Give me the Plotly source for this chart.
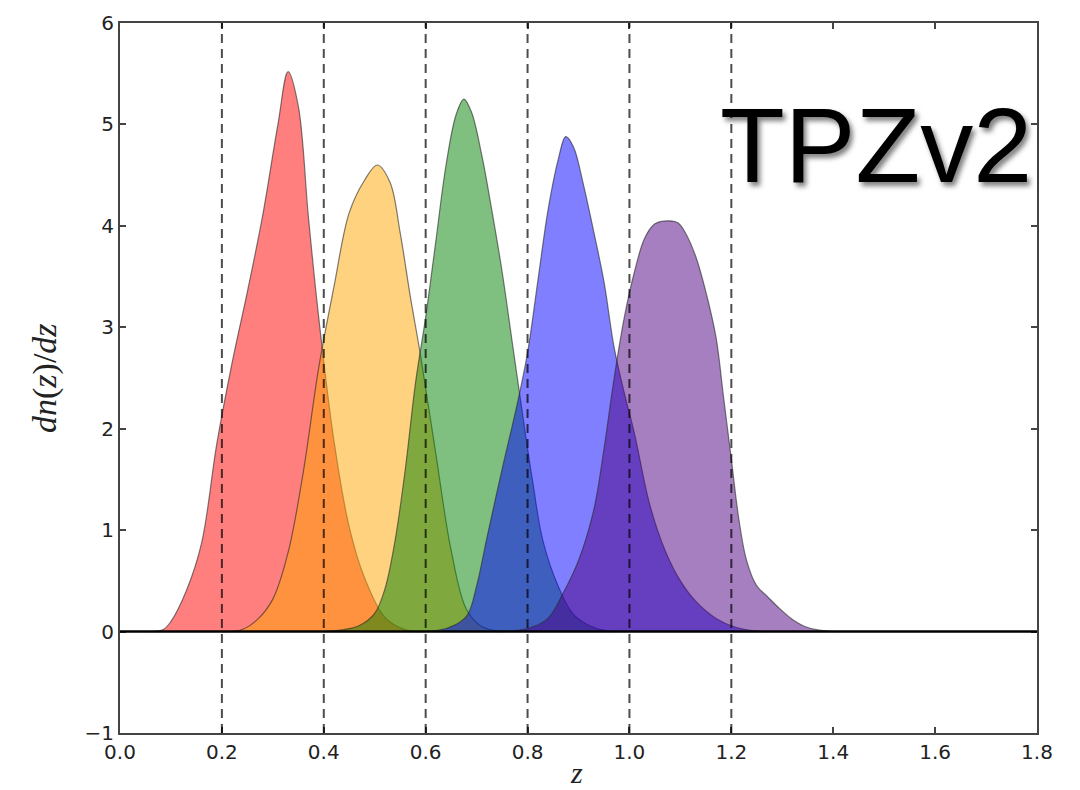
import plotly.graph_objects as go

# Redshift distributions per tomographic bin (z, dn/dz)
red_z = [0.06, 0.085, 0.10, 0.13, 0.16, 0.19, 0.22, 0.25, 0.28, 0.31, 0.33,
         0.35, 0.37, 0.39, 0.42, 0.45, 0.48, 0.52, 0.56, 0.60]
red_n = [0.0, 0.02, 0.1, 0.4, 0.87, 1.85, 2.65, 3.35, 4.1, 5.0, 5.52,
         5.18, 4.08, 3.1, 1.88, 1.03, 0.53, 0.14, 0.02, 0.0]

orange_z = [0.20, 0.24, 0.27, 0.30, 0.33, 0.36, 0.39, 0.42, 0.45, 0.48, 0.505,
            0.53, 0.55, 0.57, 0.59, 0.62, 0.65, 0.68, 0.71, 0.75]
orange_n = [0.0, 0.02, 0.12, 0.32, 0.78, 1.58, 2.6, 3.4, 4.13, 4.45, 4.6,
            4.43, 3.93, 3.3, 2.72, 1.75, 0.8, 0.22, 0.05, 0.0]

green_z = [0.40, 0.44, 0.47, 0.50, 0.52, 0.54, 0.56, 0.58, 0.60, 0.62, 0.64, 0.66, 0.675,
           0.69, 0.71, 0.73, 0.75, 0.77, 0.79, 0.81, 0.83, 0.86, 0.89, 0.93, 0.97]
green_n = [0.0, 0.02, 0.06, 0.18, 0.42, 0.9, 1.6, 2.45, 3.1, 3.85, 4.6, 5.1, 5.25,
           5.12, 4.7, 4.15, 3.55, 2.85, 2.15, 1.48, 0.9, 0.45, 0.17, 0.04, 0.0]

blue_z = [0.58, 0.64, 0.68, 0.70, 0.72, 0.75, 0.78, 0.80, 0.82, 0.84, 0.86, 0.875,
          0.89, 0.91, 0.93, 0.95, 0.97, 0.99, 1.01, 1.04, 1.07, 1.10, 1.13, 1.17, 1.21, 1.26]
blue_n = [0.0, 0.03, 0.15, 0.45, 0.92, 1.6, 2.25, 2.75, 3.45, 4.15, 4.65, 4.88,
          4.78, 4.4, 3.94, 3.45, 2.8, 2.35, 1.95, 1.25, 0.8, 0.5, 0.3, 0.13, 0.04, 0.0]

purple_z = [0.74, 0.80, 0.84, 0.87, 0.90, 0.93, 0.95, 0.97, 0.99, 1.01, 1.03, 1.05, 1.075,
            1.095, 1.11, 1.13, 1.15, 1.17, 1.185, 1.20, 1.215, 1.23, 1.25, 1.27, 1.29,
            1.32, 1.35, 1.40]
purple_n = [0.0, 0.03, 0.13, 0.38, 0.7, 1.2, 1.8, 2.5, 3.1, 3.55, 3.88, 4.02, 4.05,
            4.03, 3.93, 3.7, 3.35, 2.9, 2.3, 1.7, 1.1, 0.7, 0.45, 0.35, 0.25,
            0.12, 0.04, 0.0]

fill_colors = ["rgba(255,0,0,0.5)", "rgba(255,165,0,0.5)", "rgba(0,128,0,0.5)",
               "rgba(0,0,255,0.5)", "rgba(75,0,130,0.5)"]

bin_edges = [0.2, 0.4, 0.6, 0.8, 1.0, 1.2]
x_ticks = [0.0, 0.2, 0.4, 0.6, 0.8, 1.0, 1.2, 1.4, 1.6, 1.8]
y_ticks = [-1, 0, 1, 2, 3, 4, 5, 6]
y_tick_text = ["\u22121", "0", "1", "2", "3", "4", "5", "6"]

series = [(red_z, red_n), (orange_z, orange_n), (green_z, green_n),
          (blue_z, blue_n), (purple_z, purple_n)]

fig = go.Figure()
for (zs, ns), col in zip(series, fill_colors):
    fig.add_trace(go.Scatter(
        x=zs, y=ns, mode="lines", fill="tozeroy", fillcolor=col,
        line=dict(color="rgba(40,40,40,0.6)", width=1.2, shape="spline", smoothing=1.0),
        hoverinfo="skip", showlegend=False,
    ))

# zero line
fig.add_shape(type="line", xref="x", yref="y", x0=0, x1=1.8, y0=0, y1=0,
              line=dict(color="black", width=2.5), layer="above")

# bin boundaries
for e in bin_edges:
    fig.add_shape(type="line", xref="x", yref="y", x0=e, x1=e, y0=-1, y1=6,
                  line=dict(color="rgba(0,0,0,0.7)", width=2, dash="9px,6px"), layer="above")

fig.add_annotation(
    text="TPZv2", xref="paper", yref="paper", x=0.652, y=0.828,
    xanchor="left", yanchor="middle", showarrow=False,
    font=dict(family="Liberation Sans, Arial", size=106, color="black",
              shadow="3px 4px 5px rgba(0,0,0,0.5)"),
)

# axis titles
fig.add_annotation(text="<i>z</i>", xref="paper", yref="paper", x=0.498, y=-0.056,
                   xanchor="center", yanchor="middle", showarrow=False,
                   font=dict(family="Liberation Serif", size=30, color="#222"))
fig.add_annotation(text="<i>dn</i>(<i>z</i>)/<i>dz</i>", xref="paper", yref="paper",
                   x=-0.0818, y=0.5, xanchor="center", yanchor="middle", textangle=-90,
                   showarrow=False,
                   font=dict(family="Liberation Serif", size=34, color="#222"))

axis_common = dict(
    showgrid=False, zeroline=False, showline=True, linecolor="#444", linewidth=2,
    mirror="allticks", ticks="inside", ticklen=6, tickwidth=1.5, tickcolor="#444",
    tickfont=dict(family="DejaVu Sans", size=20, color="#222"), automargin=False,
)

fig.update_xaxes(range=[0, 1.8], tickvals=x_ticks,
                 ticktext=[f"{v:.1f}" for v in x_ticks], **axis_common)
fig.update_yaxes(range=[-1, 6], tickvals=y_ticks, ticktext=y_tick_text, **axis_common)

fig.update_layout(
    width=1080, height=790,
    margin=dict(l=120, r=43, t=23, b=57),
    plot_bgcolor="white", paper_bgcolor="white",
)

fig.write_html("out.html")
